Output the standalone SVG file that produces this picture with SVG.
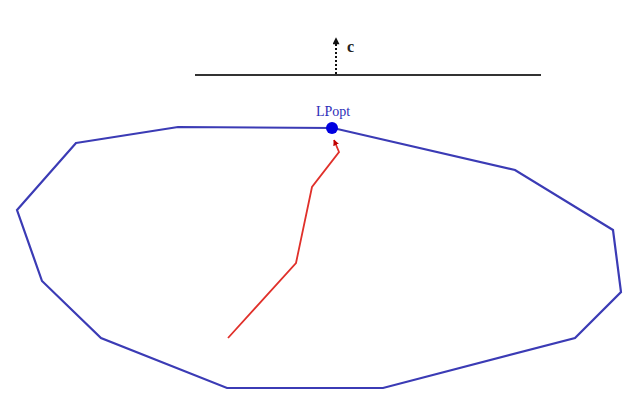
<svg xmlns="http://www.w3.org/2000/svg" width="623" height="397" viewBox="0 0 623 397">
<style>
.poly{fill:none;stroke:#3b3bb5;stroke-width:2.2;stroke-linejoin:miter}
.path{fill:none;stroke:#e0302a;stroke-width:1.8}
.lbl{font-family:"Liberation Serif",serif}
</style>
<defs>
<marker id="ah" viewBox="0 0 10 10" refX="9" refY="5" markerWidth="11" markerHeight="7" orient="auto" markerUnits="userSpaceOnUse">
<path d="M0,0 L10,5 L0,10 z" fill="#111"/>
</marker>
<marker id="rh" viewBox="0 0 10 10" refX="9" refY="5" markerWidth="6" markerHeight="6" orient="auto" markerUnits="userSpaceOnUse">
<path d="M0,0 L10,5 L0,10 z" fill="#c00000"/>
</marker>
</defs>
<rect width="623" height="397" fill="#fff"/>
<g id="objective">
<line x1="195" y1="75" x2="541" y2="75" stroke="#333" stroke-width="2"/>
<line x1="336" y1="74" x2="336" y2="38" stroke="#111" stroke-width="2" stroke-dasharray="2,2" marker-end="url(#ah)"/>
<text x="347" y="52" class="lbl" font-size="16" font-weight="bold" fill="#222">c</text>
</g>
<g id="polytope">
<polygon class="poly" points="76,143 178,127 333,128 515,170 613,230 621,292 575,338 383,388 227,388 101,338 42,281 17,210"/>
</g>
<g id="connectors">
<polyline class="path" points="228,338 296,263 312,187 339,152 334,140" marker-end="url(#rh)"/>
</g>
<g id="lpopt">
<circle cx="332" cy="128" r="6" fill="#0000e0"/>
<text x="333" y="116" class="lbl" font-size="14" fill="#2d2db8" text-anchor="middle">LPopt</text>
</g>
</svg>
